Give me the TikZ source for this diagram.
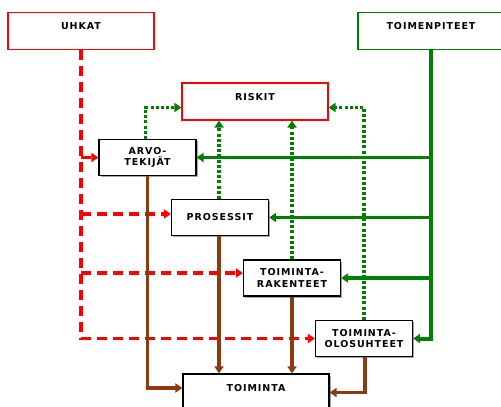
\documentclass[tikz,border=0pt]{standalone}
\usepackage{fontspec}
\newfontfamily\boxfont{DejaVu Sans}[LetterSpace=10.0]
\usetikzlibrary{arrows.meta,shadows}
\definecolor{uhred}{RGB}{255,0,0}
\definecolor{toigreen}{RGB}{0,128,0}
\definecolor{actbrown}{RGB}{140,58,16}
\begin{document}
\begin{tikzpicture}[x=1pt,y=-1pt,
	lbl/.style={font=\boxfont\bfseries\fontsize{9.5}{11.5}\selectfont},
	topbox/.style={draw, line width=1.2pt, fill=white, minimum width=146pt, minimum height=37pt, inner sep=0pt},
	unitbox/.style={draw=black, line width=1.2pt, fill=white, minimum width=97pt, minimum height=36pt,
		inner sep=0pt, align=center, lbl,
		drop shadow={shadow xshift=1.5pt, shadow yshift=-1.5pt, fill=gray!70, opacity=1}},
	threat/.style={uhred, line width=3.2pt, dash pattern=on 10pt off 6pt, -{Triangle[length=7pt,width=9pt]}},
	measure/.style={toigreen, line width=3.2pt, -{Triangle[length=7pt,width=9pt]}},
	risk/.style={toigreen, line width=3.2pt, dash pattern=on 3pt off 2.2pt, -{Triangle[length=7pt,width=9pt]}},
	act/.style={actbrown, line width=3.2pt, -{Triangle[length=7pt,width=9pt]}}]
	\useasboundingbox (0,0) rectangle (501,407);
	% top level
	\node[topbox, draw=uhred, label={[lbl, anchor=north, yshift=-7pt]north:UHKAT}] (uhkat) at (81,31) {};
	\node[topbox, draw=toigreen, label={[lbl, anchor=north, yshift=-7pt]north:TOIMENPITEET}] (toimen) at (431,31) {};
	\node[topbox, draw=uhred, label={[lbl, anchor=north, yshift=-8pt]north:RISKIT}] (riskit) at (255,101.5) {};
	% targets
	\node[unitbox] (arvo) at (147.5,157.5) {ARVO-\\TEKIJÄT};
	\node[unitbox] (prosessit) at (220,217.5) {PROSESSIT};
	\node[unitbox] (rakenteet) at (292,278) {TOIMINTA-\\RAKENTEET};
	\node[unitbox] (olosuhteet) at (364,338.5) {TOIMINTA-\\OLOSUHTEET};
	\node[topbox, draw=black, drop shadow={shadow xshift=1.5pt, shadow yshift=-1.5pt, fill=gray!70, opacity=1},
		label={[lbl, anchor=north, yshift=-8pt]north:TOIMINTA}] (toiminta) at (256,392.5) {};
	% threats
	\draw[threat] (uhkat.south) -- (uhkat.south |- olosuhteet.west) -- (olosuhteet.west);
	\draw[threat] (uhkat.south |- arvo.west) -- (arvo.west);
	\draw[threat] ([yshift=3.5pt]uhkat.south |- prosessit.west) -- ([yshift=3.5pt]prosessit.west);
	\draw[threat] ([yshift=5pt]uhkat.south |- rakenteet.west) -- ([yshift=5pt]rakenteet.west);
	% measures
	\draw[measure, line width=4pt] (toimen.south) -- (toimen.south |- olosuhteet.east) -- (olosuhteet.east);
	\draw[measure] (toimen.south |- arvo.east) -- (arvo.east);
	\draw[measure] (toimen.south |- prosessit.east) -- (prosessit.east);
	\draw[measure] (toimen.south |- rakenteet.east) -- (rakenteet.east);
	% risks
	\draw[risk] ([xshift=-2pt]arvo.north) |- ([yshift=-6pt]riskit.west);
	\draw[risk] ([xshift=-1pt]prosessit.north) -- ([xshift=-1pt]prosessit.north |- riskit.south);
	\draw[risk] (rakenteet.north) -- (rakenteet.north |- riskit.south);
	\draw[risk] (olosuhteet.north) |- ([yshift=-6pt]riskit.east);
	% activity
	\draw[act] (arvo.south) |- ([yshift=4.5pt]toiminta.west);
	\draw[act] ([xshift=-1pt]prosessit.south) -- ([xshift=-1pt]prosessit.south |- toiminta.north);
	\draw[act] (rakenteet.south) -- (rakenteet.south |- toiminta.north);
	\draw[act] ([xshift=1pt]olosuhteet.south) |- (toiminta.east);
\end{tikzpicture}
\end{document}
